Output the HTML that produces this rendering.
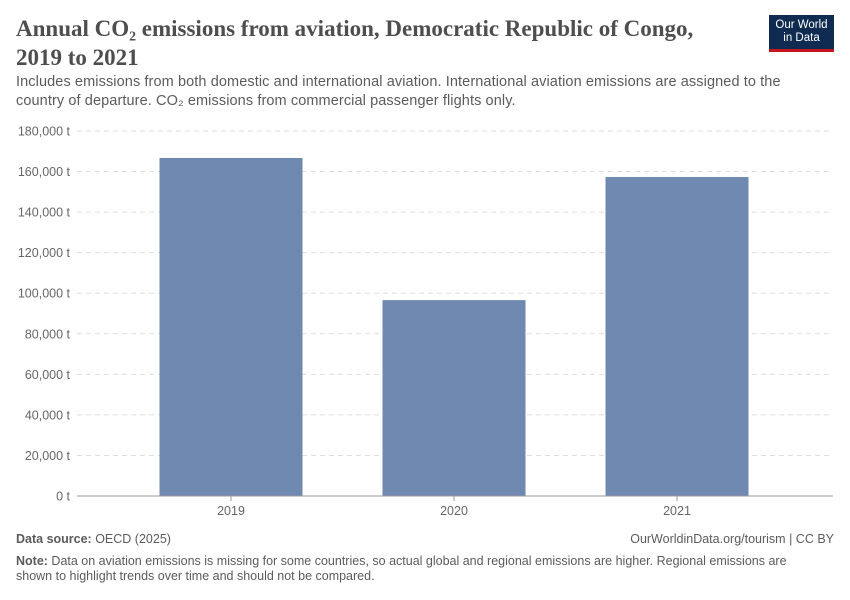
<!DOCTYPE html>
<html><head><meta charset="utf-8"><style>
body{margin:0;width:850px;height:600px;background:#fff;font-family:"Liberation Sans",sans-serif;position:relative;overflow:hidden}
.t{position:absolute}
</style></head><body>
<div class="t" style="left:16px;top:14px;font-family:'Liberation Serif',serif;font-size:23px;font-weight:bold;line-height:29px;color:#4e4e4e;width:700px">Annual CO₂ emissions from aviation, Democratic Republic of Congo, 2019 to 2021</div>
<div class="t" style="left:769px;top:15px;width:65px;height:37px;background:#0f2b52;border-bottom:3px solid #c4161c;color:#fff;font-size:11.5px;line-height:13px;text-align:center;padding-top:4px;box-sizing:border-box">Our World<br>in Data</div>
<div class="t" style="left:16px;top:73px;font-size:14.5px;line-height:19px;color:#5b5b5b;width:790px;letter-spacing:0.1px">Includes emissions from both domestic and international aviation. International aviation emissions are assigned to the country of departure. CO₂ emissions from commercial passenger flights only.</div>
<svg class="t" style="left:0;top:0" width="850" height="600" id="chart"></svg>
<div class="t" style="left:16px;top:532px;font-size:12.5px;color:#5b5b5b"><b>Data source:</b> OECD (2025)</div>
<div class="t" style="right:16px;top:532px;font-size:12.5px;color:#5b5b5b">OurWorldinData.org/tourism | CC BY</div>
<div class="t" style="left:16px;top:554px;font-size:12.5px;line-height:15px;color:#5b5b5b;width:810px"><b>Note:</b> Data on aviation emissions is missing for some countries, so actual global and regional emissions are higher. Regional emissions are shown to highlight trends over time and should not be compared.</div>
<script>
const categories=["2019","2020","2021"];
const values=[166700,96600,157300];
const ticks=[0,20000,40000,60000,80000,100000,120000,140000,160000,180000];
const ns="http://www.w3.org/2000/svg";
const svg=document.getElementById('chart');
const x0=77,x1=833,y0=496,yTop=131,maxV=180000;
const y=v=>y0-(v/maxV)*(y0-yTop);
const bandStart=119.5,band=223,bw=143;
const bx=i=>bandStart+band*i+(band-bw)/2;
function mk(tag,a){const e=document.createElementNS(ns,tag);for(const k in a)e.setAttribute(k,a[k]);svg.appendChild(e);return e;}
ticks.forEach(t=>{
 if(t>0){const l=mk('line',{x1:x0,x2:x1,y1:y(t),y2:y(t),stroke:'#ddd','stroke-dasharray':'5,4'});
 
 }
 const tx=mk('text',{x:70,y:y(t)+4.5,'text-anchor':'end','font-size':'12.5','fill':'#666','font-family':'Liberation Sans'});
 tx.textContent=t.toLocaleString('en-US')+' t';
 
 
});
values.forEach((v,i)=>{
 const r=mk('rect',{x:bx(i),y:y(v),width:bw,height:y0-y(v),fill:'#6f89b1'});
 
 
 const tx=mk('text',{x:bx(i)+bw/2,y:515,'text-anchor':'middle','font-size':'12.5','fill':'#666','font-family':'Liberation Sans'});
 tx.textContent=categories[i];
 
 
 const tk=mk('line',{x1:bx(i)+bw/2,x2:bx(i)+bw/2,y1:y0,y2:y0+5,stroke:'#999'});
 
 
});
const ax=mk('line',{x1:x0,x2:x1,y1:y0,y2:y0,stroke:'#999'});


</script>
</body></html>
